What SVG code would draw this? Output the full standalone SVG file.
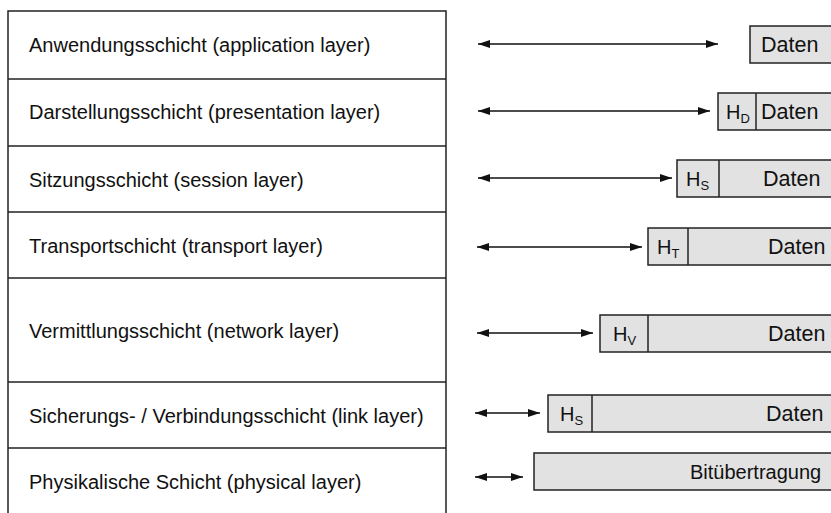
<svg xmlns="http://www.w3.org/2000/svg" width="831" height="513" viewBox="0 0 831 513">
<defs>
<marker id="ah" viewBox="0 0 12 8" refX="12" refY="4" markerWidth="12" markerHeight="8" markerUnits="userSpaceOnUse" orient="auto-start-reverse">
<path d="M0,0 L12,4 L0,8 z" fill="#111"/>
</marker>
</defs>
<style>
text{font-family:"Liberation Sans",Arial,sans-serif;fill:#111}
.lt{font-size:20px}
.rt{font-size:20px}
.dt{font-size:21.5px}
.sub{font-size:13px}
.tbl{fill:none;stroke:#222;stroke-width:1.5}
.pk{fill:#e2e2e2;stroke:#222;stroke-width:1.5}
.dv{stroke:#222;stroke-width:1.5}
.ar{stroke:#111;stroke-width:1.5;fill:none;marker-start:url(#ah);marker-end:url(#ah)}
</style>
<rect width="831" height="513" fill="#fff"/>
<g id="table">
<path class="tbl" d="M8,520 V11 H446 V520"/>
</g>
<g id="layer-application">
<text class="lt" x="29" y="52">Anwendungsschicht (application layer)</text>
<line class="tbl" x1="8" y1="79" x2="446" y2="79"/>
</g>
<g id="layer-presentation">
<text class="lt" x="29" y="119">Darstellungsschicht (presentation layer)</text>
<line class="tbl" x1="8" y1="146" x2="446" y2="146"/>
</g>
<g id="layer-session">
<text class="lt" x="29" y="187">Sitzungsschicht (session layer)</text>
<line class="tbl" x1="8" y1="212" x2="446" y2="212"/>
</g>
<g id="layer-transport">
<text class="lt" x="29" y="253">Transportschicht (transport layer)</text>
<line class="tbl" x1="8" y1="278" x2="446" y2="278"/>
</g>
<g id="layer-network">
<text class="lt" x="29" y="338">Vermittlungsschicht (network layer)</text>
<line class="tbl" x1="8" y1="382" x2="446" y2="382"/>
</g>
<g id="layer-link">
<text class="lt" x="29" y="423">Sicherungs- / Verbindungsschicht (link layer)</text>
<line class="tbl" x1="8" y1="448" x2="446" y2="448"/>
</g>
<g id="layer-physical">
<text class="lt" x="29" y="489">Physikalische Schicht (physical layer)</text>
</g>

<g id="connectors">
<line class="ar" x1="478" y1="44" x2="718" y2="44"/>
<line class="ar" x1="478" y1="111" x2="710" y2="111"/>
<line class="ar" x1="478" y1="178" x2="672" y2="178"/>
<line class="ar" x1="477" y1="247" x2="642" y2="247"/>
<line class="ar" x1="477" y1="333" x2="593" y2="333"/>
<line class="ar" x1="475" y1="413" x2="540" y2="413"/>
<line class="ar" x1="475" y1="477" x2="523" y2="477"/>
</g>

<g id="pdu-application">
<rect class="pk" x="750" y="26" width="100" height="37"/>
<text class="dt" x="761" y="52">Daten</text>
</g>
<g id="pdu-presentation">
<rect class="pk" x="718" y="93" width="130" height="37"/>
<line class="dv" x1="756" y1="93" x2="756" y2="130"/>
<text class="rt" x="726" y="119">H<tspan class="sub" dy="4">D</tspan></text>
<text class="dt" x="761" y="119">Daten</text>
</g>
<g id="pdu-session">
<rect class="pk" x="677" y="160" width="170" height="37"/>
<line class="dv" x1="719" y1="160" x2="719" y2="197"/>
<text class="rt" x="686" y="186">H<tspan class="sub" dy="4">S</tspan></text>
<text class="dt" x="763" y="186">Daten</text>
</g>
<g id="pdu-transport">
<rect class="pk" x="648" y="228" width="200" height="37"/>
<line class="dv" x1="688" y1="228" x2="688" y2="265"/>
<text class="rt" x="657" y="254">H<tspan class="sub" dy="4">T</tspan></text>
<text class="dt" x="768" y="254">Daten</text>
</g>
<g id="pdu-network">
<rect class="pk" x="600" y="315" width="250" height="37"/>
<line class="dv" x1="648" y1="315" x2="648" y2="352"/>
<text class="rt" x="613" y="341">H<tspan class="sub" dy="4">V</tspan></text>
<text class="dt" x="768" y="341">Daten</text>
</g>
<g id="pdu-link">
<rect class="pk" x="548" y="395" width="300" height="37"/>
<line class="dv" x1="592" y1="395" x2="592" y2="432"/>
<text class="rt" x="560" y="421">H<tspan class="sub" dy="4">S</tspan></text>
<text class="dt" x="766" y="421">Daten</text>
</g>
<g id="pdu-physical">
<rect class="pk" x="534" y="453" width="320" height="37"/>
<text class="rt" x="690" y="479">Bitübertragung</text>
</g>
</svg>
